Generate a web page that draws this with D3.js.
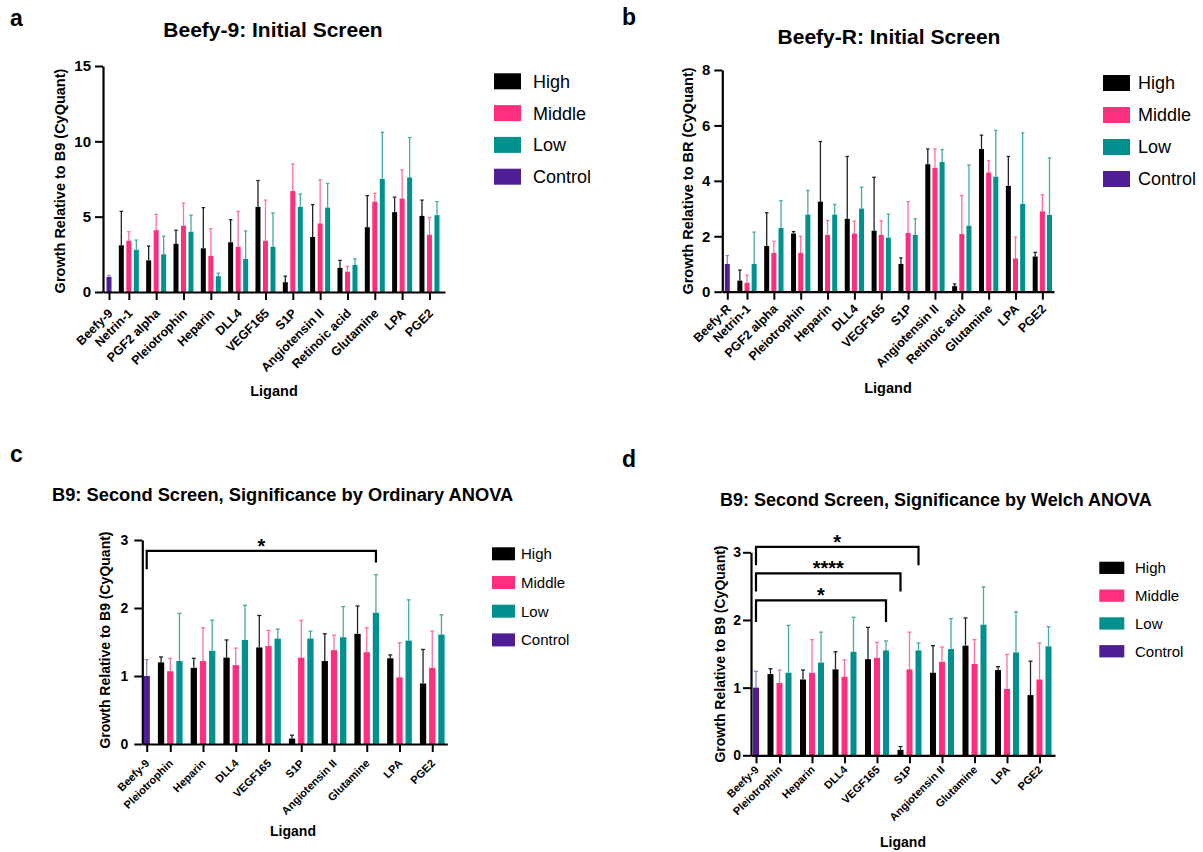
<!DOCTYPE html>
<html><head><meta charset="utf-8">
<script src="https://cdn.jsdelivr.net/npm/d3@7"></script>
<style>body{margin:0;background:#fff} svg text{font-family:"Liberation Sans",Arial,Helvetica,sans-serif}</style>
</head><body><svg id="chart" width="1203" height="852"></svg>
<script>
// ---------------- DATA ----------------
const seriesNames = ["High", "Middle", "Low", "Control"];

// Panel a: Beefy-9 initial screen
const ligandsA = ["Netrin-1","PGF2 alpha","Pleiotrophin","Heparin","DLL4","VEGF165","S1P","Angiotensin II","Retinoic acid","Glutamine","LPA","PGE2"];
const controlA = {label: "Beefy-9", value: 1.0, err: 0.1};
const highA    = [3.1, 2.1, 3.2, 2.9, 3.3, 5.65, 0.65, 3.65, 1.6, 4.3, 5.3, 5.05];
const highErrA = [2.25, 0.95, 0.9, 2.7, 1.5, 1.75, 0.4, 2.15, 0.5, 2.1, 1.0, 1.05];
const midA     = [3.4, 4.1, 4.4, 2.4, 3.0, 3.4, 6.7, 4.55, 1.35, 6.0, 6.2, 3.8];
const midErrA  = [0.6, 1.05, 1.5, 1.8, 2.35, 2.7, 1.8, 2.9, 0.35, 0.55, 1.9, 1.15];
const lowA     = [2.8, 2.5, 4.0, 1.05, 2.2, 3.0, 5.65, 5.6, 1.8, 7.5, 7.6, 5.1];
const lowErrA  = [0.65, 1.2, 1.1, 0.2, 1.85, 2.25, 0.85, 1.6, 0.4, 3.1, 2.65, 0.9];
const yTicksA  = [0, 5, 10, 15];

// Panel b: Beefy-R initial screen
const ligandsB = ligandsA;
const controlB = {label: "Beefy-R", value: 1.0, err: 0.3};
const highB    = [0.4, 1.65, 2.1, 3.25, 2.63, 2.2, 1.0, 4.6, 0.2, 5.15, 3.82, 1.27];
const highErrB = [0.38, 1.2, 0.07, 2.17, 2.25, 1.93, 0.22, 0.55, 0.08, 0.5, 1.06, 0.15];
const midB     = [0.32, 1.4, 1.4, 2.05, 2.1, 2.05, 2.12, 4.47, 2.08, 4.3, 1.2, 2.9];
const midErrB  = [0.28, 0.42, 0.6, 0.52, 0.45, 0.5, 1.13, 0.68, 1.39, 0.43, 0.77, 0.6];
const lowB     = [1.0, 2.3, 2.78, 2.78, 3.0, 1.95, 2.05, 4.68, 2.38, 4.15, 3.17, 2.77];
const lowErrB  = [1.15, 0.98, 0.87, 0.37, 0.77, 0.85, 0.58, 0.45, 2.19, 1.67, 2.56, 2.06];
const yTicksB  = [0, 2, 4, 6, 8];

// Panels c & d: B9 second screen
const ligandsC = ["Pleiotrophin","Heparin","DLL4","VEGF165","S1P","Angiotensin II","Glutamine","LPA","PGE2"];
const controlC = {label: "Beefy-9", value: 1.0, err: 0.24};
const highC    = [1.2, 1.12, 1.27, 1.42, 0.08, 1.22, 1.62, 1.26, 0.89];
const highErrC = [0.08, 0.14, 0.26, 0.47, 0.05, 0.4, 0.41, 0.05, 0.5];
const midC     = [1.07, 1.22, 1.16, 1.44, 1.27, 1.38, 1.35, 0.98, 1.12];
const midErrC  = [0.19, 0.49, 0.25, 0.23, 0.55, 0.22, 0.36, 0.51, 0.54];
const lowC     = [1.22, 1.37, 1.53, 1.55, 1.55, 1.57, 1.93, 1.52, 1.61];
const lowErrC  = [0.7, 0.45, 0.51, 0.14, 0.11, 0.45, 0.56, 0.6, 0.29];
const yTicksC  = [0, 1, 2, 3];

// Significance brackets: target ligand, series index, bracket height, leg ends (data units), label
const bracketsC = [
  {ligand: "Glutamine", series: 2, top: 2.84, legL: 2.57, legR: 2.67, label: "*"}
];
const bracketsD = [
  {ligand: "S1P", series: 2, top: 3.08, legL: 2.81, legR: 2.81, label: "*"},
  {ligand: "S1P", series: 0, top: 2.69, legL: 2.42, legR: 2.42, label: "****"},
  {ligand: "VEGF165", series: 2, top: 2.29, legL: 1.97, legR: 1.97, label: "*"}
];

// ---------------- STYLE ----------------
const fills = ["#000000", "#FF2E7E", "#00918E", "#4F1E96"];
const errColors = ["#222222", "#FF70A0", "#45ABA8", "#9A80C8"];

const svg = d3.select("#chart");
svg.append("rect").attr("width", 1203).attr("height", 852).attr("fill", "#fff");

function drawPanel(p) {
  const g = svg.append("g");
  const y = d3.scaleLinear().domain([0, p.yMax]).range([p.y0, p.yTop]);
  const uOf = (gi, j) => gi === 0 ? 0 : 1 + (gi - 1) * 3 + j + gi * (p.gap / p.step);
  const x = d3.scaleLinear()
    .domain([(p.axisX - p.x0) / p.step, (p.axisEnd - p.x0) / p.step])
    .range([p.axisX, p.axisEnd]);

  const recs = [{u: 0, v: p.control.value, e: p.control.err, s: 3}];
  p.ligands.forEach((lig, i) => {
    [[p.high, p.highErr], [p.mid, p.midErr], [p.low, p.lowErr]].forEach(([vals, errs], j) => {
      recs.push({u: uOf(i + 1, j), v: vals[i], e: errs[i], s: j});
    });
  });

  // error bars
  const eg = g.append("g");
  recs.forEach(r => {
    const cx = x(r.u);
    eg.append("line").attr("x1", cx).attr("x2", cx).attr("y1", y(r.v)).attr("y2", y(r.v + r.e))
      .attr("stroke", errColors[r.s]).attr("stroke-width", 1.3);
    eg.append("line").attr("x1", cx - p.cap / 2).attr("x2", cx + p.cap / 2)
      .attr("y1", y(r.v + r.e)).attr("y2", y(r.v + r.e))
      .attr("stroke", errColors[r.s]).attr("stroke-width", 1.3);
  });
  // bars
  g.append("g").selectAll("rect").data(recs).join("rect")
    .attr("x", d => x(d.u) - p.bw / 2).attr("width", p.bw)
    .attr("y", d => y(d.v)).attr("height", d => y(0) - y(d.v))
    .attr("fill", d => fills[d.s]);

  // y axis
  const ya = g.append("g").attr("transform", `translate(${p.axisX},0)`)
    .call(d3.axisLeft(y).tickValues(p.yTicks).tickSize(8).tickSizeOuter(0).tickPadding(p.yPad).tickFormat(d3.format("d")));
  ya.select(".domain").attr("stroke-width", 2.2);
  ya.selectAll(".tick line").attr("stroke-width", 2);
  ya.selectAll(".tick text").attr("font-size", p.yTickFont).attr("font-weight", "bold").attr("fill", "#000");

  // x axis
  const tickU = [0].concat(p.ligands.map((l, i) => uOf(i + 1, 1)));
  const tickLabels = [p.control.label].concat(p.ligands);
  const xa = g.append("g").attr("transform", `translate(0,${p.y0})`)
    .call(d3.axisBottom(x).tickValues(tickU).tickSize(8).tickSizeOuter(0)
      .tickFormat((d, i) => tickLabels[i]));
  xa.select(".domain").attr("stroke-width", 2.2);
  xa.selectAll(".tick line").attr("stroke-width", 2);
  xa.selectAll(".tick text")
    .attr("font-size", p.xTickFont).attr("font-weight", "bold").attr("fill", "#000")
    .attr("text-anchor", "end").attr("x", 0).attr("y", 0).attr("dy", 0)
    .attr("transform", `translate(${p.lblDx},${p.lblDy}) rotate(-45)`);

  // axis titles
  g.append("text").attr("x", p.ligandX).attr("y", p.ligandY).attr("text-anchor", "middle")
    .attr("font-size", p.axisTitleFont).attr("font-weight", "bold").text("Ligand");
  g.append("text").attr("transform", `translate(${p.yLabelX},${p.yLabelY}) rotate(-90)`)
    .attr("text-anchor", "middle").attr("font-size", p.axisTitleFont).attr("font-weight", "bold")
    .text(p.yLabel);

  // title and letter
  g.append("text").attr("x", p.titleX).attr("y", p.titleY).attr("text-anchor", p.titleAnchor)
    .attr("font-size", p.titleFont).attr("font-weight", "bold").text(p.title);
  g.append("text").attr("x", p.letterX).attr("y", p.letterY)
    .attr("font-size", 23).attr("font-weight", "bold").text(p.letter);

  // legend
  const lg = g.append("g");
  seriesNames.forEach((name, i) => {
    const ty = p.legTop + i * p.legStep;
    lg.append("rect").attr("x", p.legX).attr("y", ty).attr("width", p.legW).attr("height", p.legH)
      .attr("fill", fills[i]);
    lg.append("text").attr("x", p.legTextX).attr("y", ty + p.legH / 2).attr("dy", "0.36em")
      .attr("font-size", p.legFont).text(name);
  });

  // brackets
  (p.brackets || []).forEach(b => {
    const li = p.ligands.indexOf(b.ligand);
    const xl = x(0), xr = x(uOf(li + 1, b.series));
    g.append("path")
      .attr("d", `M${xl},${y(b.legL)}V${y(b.top)}H${xr}V${y(b.legR)}`)
      .attr("fill", "none").attr("stroke", "#000").attr("stroke-width", 2.2);
    g.append("text").attr("x", (xl + xr) / 2).attr("y", y(b.top) + 2).attr("text-anchor", "middle")
      .attr("font-size", 20).attr("font-weight", "bold").text(b.label);
  });
}

drawPanel({
  ligands: ligandsA, control: controlA, high: highA, highErr: highErrA, mid: midA, midErr: midErrA,
  low: lowA, lowErr: lowErrA, yMax: 15, yTicks: yTicksA,
  axisX: 103, axisEnd: 445, y0: 292, yTop: 66, x0: 109, step: 7.5, gap: 4.83, bw: 5, cap: 3.5,
  yTickFont: 15, yPad: 4, xTickFont: 12.5, axisTitleFont: 14.5, lblDx: 4, lblDy: 22,
  ligandX: 274, ligandY: 396, yLabelX: 65, yLabelY: 181, yLabel: "Growth Relative to B9 (CyQuant)",
  title: "Beefy-9: Initial Screen", titleX: 273, titleY: 37, titleAnchor: "middle", titleFont: 21,
  letter: "a", letterX: 10, letterY: 26,
  legX: 494, legW: 27, legH: 16, legTop: 73.3, legStep: 31.8, legTextX: 533, legFont: 18
});
drawPanel({
  ligands: ligandsB, control: controlB, high: highB, highErr: highErrB, mid: midB, midErr: midErrB,
  low: lowB, lowErr: lowErrB, yMax: 8, yTicks: yTicksB,
  axisX: 722.3, axisEnd: 1054, y0: 291.7, yTop: 70, x0: 727.3, step: 7.15, gap: 5.4, bw: 5, cap: 3.5,
  yTickFont: 15, yPad: 4, xTickFont: 12.5, axisTitleFont: 14.5, lblDx: 4, lblDy: 18,
  ligandX: 888, ligandY: 393, yLabelX: 693, yLabelY: 181, yLabel: "Growth Relative to BR (CyQuant)",
  title: "Beefy-R: Initial Screen", titleX: 889, titleY: 44, titleAnchor: "middle", titleFont: 21,
  letter: "b", letterX: 622, letterY: 25,
  legX: 1103, legW: 27, legH: 16, legTop: 75, legStep: 32, legTextX: 1138, legFont: 18
});
drawPanel({
  ligands: ligandsC, control: controlC, high: highC, highErr: highErrC, mid: midC, midErr: midErrC,
  low: lowC, lowErr: lowErrC, yMax: 3, yTicks: yTicksC, brackets: bracketsC,
  axisX: 142.3, axisEnd: 447.3, y0: 744, yTop: 540, x0: 146.7, step: 9.2, gap: 5.15, bw: 6.3, cap: 4,
  yTickFont: 14, yPad: 6, xTickFont: 11, axisTitleFont: 14, lblDx: 3, lblDy: 20,
  ligandX: 293, ligandY: 836, yLabelX: 110, yLabelY: 640, yLabel: "Growth Relative to B9 (CyQuant)",
  title: "B9: Second Screen, Significance by Ordinary ANOVA", titleX: 52, titleY: 501, titleAnchor: "start", titleFont: 18.3,
  letter: "c", letterX: 10, letterY: 462,
  legX: 492, legW: 23, legH: 13, legTop: 547.3, legStep: 28.7, legTextX: 521, legFont: 15
});
drawPanel({
  ligands: ligandsC, control: controlC, high: highC, highErr: highErrC, mid: midC, midErr: midErrC,
  low: lowC, lowErr: lowErrC, yMax: 3, yTicks: yTicksC, brackets: bracketsD,
  axisX: 751, axisEnd: 1055, y0: 755.3, yTop: 552.3, x0: 756, step: 9, gap: 5.5, bw: 6, cap: 4,
  yTickFont: 14, yPad: 2, xTickFont: 11, axisTitleFont: 14, lblDx: 3, lblDy: 15,
  ligandX: 903, ligandY: 847, yLabelX: 725, yLabelY: 654, yLabel: "Growth Relative to B9 (CyQuant)",
  title: "B9: Second Screen, Significance by Welch ANOVA", titleX: 720, titleY: 506, titleAnchor: "start", titleFont: 18,
  letter: "d", letterX: 622, letterY: 467,
  legX: 1099.3, legW: 25, legH: 12.3, legTop: 561.7, legStep: 27.8, legTextX: 1135, legFont: 15
});
</script></body></html>
